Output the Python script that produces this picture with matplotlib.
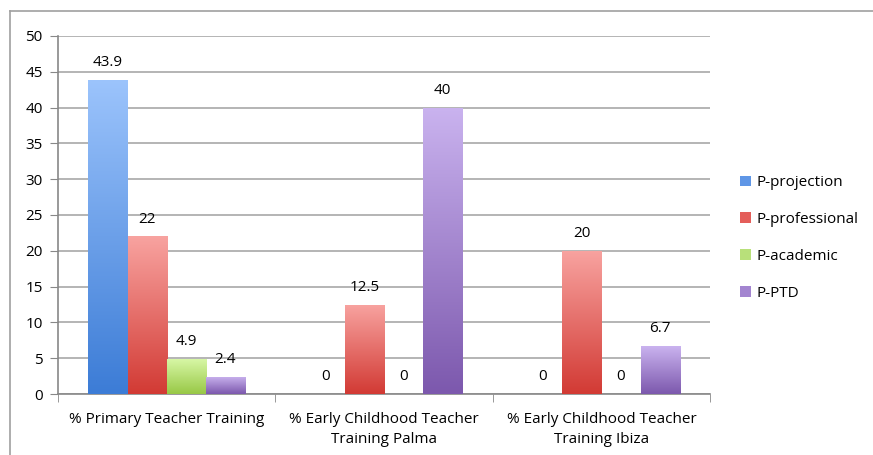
import matplotlib
matplotlib.use('Agg')
import matplotlib.pyplot as plt
import numpy as np
from matplotlib.colors import LinearSegmentedColormap
from matplotlib.patches import Patch
from matplotlib.lines import Line2D

plt.rcParams['font.family'] = ['Open Sans', 'DejaVu Sans']

categories = ["% Primary Teacher Training",
              "% Early Childhood Teacher\nTraining Palma",
              "% Early Childhood Teacher\nTraining Ibiza"]
series_names = ["P-projection", "P-professional", "P-academic", "P-PTD"]
p_projection   = [43.9, 0, 0]
p_professional = [22, 12.5, 20]
p_academic     = [4.9, 0, 0]
p_ptd          = [2.4, 40, 6.7]
value_labels = [["43.9", "0", "0"],
                ["22", "12.5", "20"],
                ["4.9", "0", "0"],
                ["2.4", "40", "6.7"]]

# (top, bottom) gradient colours per series
grads = [("#9CC4FC", "#3C7CD6"),
         ("#F8A3A0", "#D23A34"),
         ("#D9F8A8", "#98C846"),
         ("#CAB3EF", "#7C58AD")]
legend_colors = ["#5F96E6", "#E45E5A", "#B8E07A", "#A385D0"]

FS = 11

fig = plt.figure(figsize=(8.73, 4.55), dpi=100)
ax = fig.add_axes([0.0664, 0.134, 0.747, 0.787])

x = np.arange(len(categories))
width = 0.18
values = [p_projection, p_professional, p_academic, p_ptd]
offsets = (np.arange(4) - 1.5) * width

grad = np.linspace(1, 0, 256).reshape(-1, 1)
for i, vals in enumerate(values):
    bars = ax.bar(x + offsets[i], vals, width, facecolor="none",
                  edgecolor="none", zorder=3)
    cmap = LinearSegmentedColormap.from_list("g", [grads[i][1], grads[i][0]])
    for b, v, lab in zip(bars, vals, value_labels[i]):
        x0, w = b.get_x(), b.get_width()
        if v > 0:
            im = ax.imshow(grad, cmap=cmap, aspect="auto",
                           extent=(x0, x0 + w, 0, v), zorder=3,
                           interpolation="bicubic")
            im.set_clip_path(b)
        ax.annotate(lab, (x0 + w / 2, v), xytext=(0, 7),
                    textcoords="offset points", ha="center", va="bottom",
                    fontsize=FS, color="black", zorder=4)

ax.set_xlim(-0.5, 2.5)
ax.set_ylim(0, 50)
ax.set_yticks(np.arange(0, 51, 5))
ax.tick_params(axis="y", labelsize=FS, length=6, color="#888888", pad=5)
ax.set_xticks(x)
ax.set_xticklabels(categories, fontsize=FS, linespacing=1.45)
ax.tick_params(axis="x", length=0, pad=13)
ax.set_xticks([-0.5, 0.5, 1.5, 2.5], minor=True)
ax.tick_params(axis="x", which="minor", length=6, color="#888888")
ax.grid(axis="y", color="#A8A8A8", linewidth=1.2, zorder=0)
ax.set_axisbelow(True)
for s in ["top", "right"]:
    ax.spines[s].set_visible(False)
for s in ["left", "bottom"]:
    ax.spines[s].set_color("#888888")
    ax.spines[s].set_linewidth(1.2)

handles = [Patch(facecolor=c, edgecolor="none") for c in legend_colors]
fig.legend(handles, series_names, loc="center left",
           bbox_to_anchor=(0.832, 0.477), frameon=False, fontsize=FS,
           handlelength=0.7, handleheight=0.7, handletextpad=0.35,
           labelspacing=1.42)

# outer chart frame (top and left edges visible)
fig.add_artist(Line2D([10 / 873, 1], [1 - 11 / 455] * 2,
                      transform=fig.transFigure, color="#A0A0A0", lw=1.2))
fig.add_artist(Line2D([10 / 873] * 2, [0, 1 - 11 / 455],
                      transform=fig.transFigure, color="#A0A0A0", lw=1.2))

fig.savefig("out.png", dpi=100)
